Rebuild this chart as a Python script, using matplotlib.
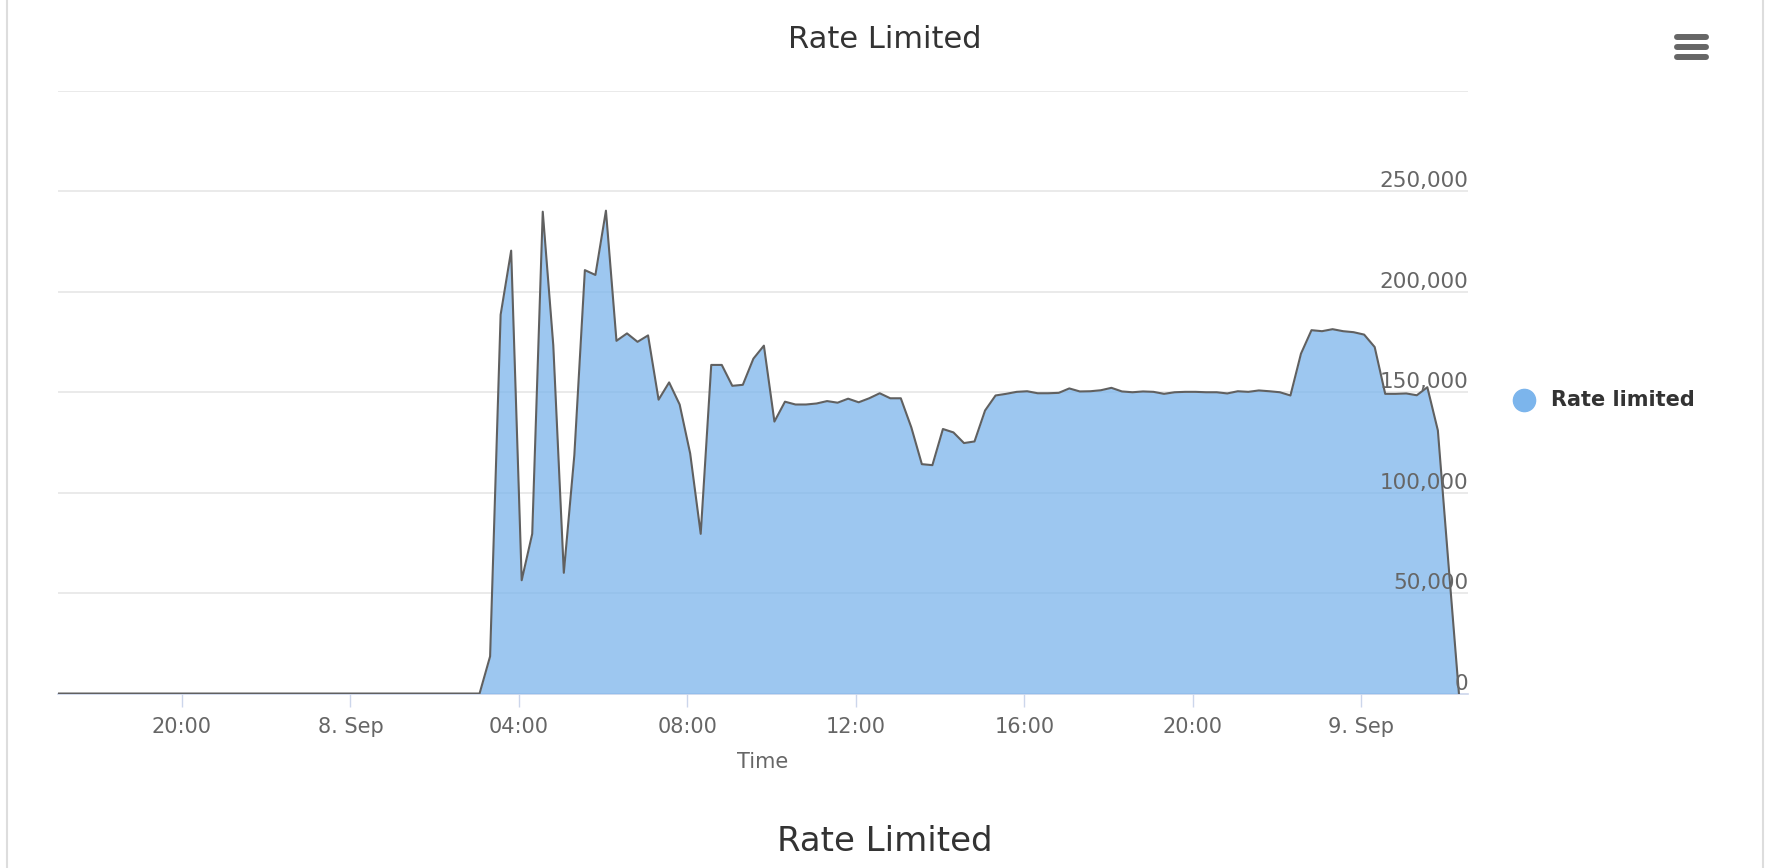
import matplotlib
matplotlib.use("Agg")
import matplotlib.pyplot as plt
import matplotlib.dates as mdates
import matplotlib.transforms as mtransforms
from matplotlib.lines import Line2D
import pandas as pd

# 15-minute samples, 7 Sep 17:04 -> 9 Sep 02:19
start_time = "2019-09-07 17:04"
step = "15min"

# zero until 03:04 on 8 Sep (41 samples)
quiet_values = [0] * 41

# 03:19 on 8 Sep onwards, in thousands
rate_limited_k = [
    18.5, 188.6, 220.5,
    56.4, 79.5, 239.9, 173.4,
    60.1, 118.7, 210.8, 208.4,
    240.4, 175.6, 179.3, 175.1,
    178.3, 146.3, 154.9, 143.9,
    119.5, 79.5, 163.6, 163.6,
    153.2, 153.7, 166.7, 173.2,
    135.4, 145.3, 143.9, 143.9,
    144.4, 145.6, 144.8, 146.8,
    145.0, 147.0, 149.5, 147.0,
    147.0, 132.5, 114.2, 113.7,
    131.7, 130.0, 124.7, 125.5,
    140.9, 148.4, 149.2, 150.2,
    150.5, 149.5, 149.5, 149.7,
    151.9, 150.4, 150.5, 151.0,
    152.2, 150.4, 150.0, 150.4,
    150.2, 149.2, 150.0, 150.2,
    150.2, 150.0, 150.0, 149.4,
    150.5, 150.2, 150.9, 150.5,
    150.0, 148.4, 169.2, 180.9,
    180.4, 181.4, 180.4, 179.9,
    178.7, 172.5, 149.2, 149.2,
    149.4, 148.5, 152.5, 131.0,
    65.0, 0.0,
]

x_tick_times = ["2019-09-07 20:00", "2019-09-08 00:00", "2019-09-08 04:00",
                "2019-09-08 08:00", "2019-09-08 12:00", "2019-09-08 16:00",
                "2019-09-08 20:00", "2019-09-09 00:00"]
x_tick_labels = ["20:00", "8. Sep", "04:00", "08:00", "12:00", "16:00",
                 "20:00", "9. Sep"]
y_ticks = [0, 50000, 100000, 150000, 200000, 250000]
y_tick_labels = ["0", "50,000", "100,000", "150,000", "200,000", "250,000"]

values = quiet_values + [v * 1000 for v in rate_limited_k]
times = pd.date_range(start_time, periods=len(values), freq=step)
df = pd.DataFrame({"time": times, "rate_limited": values})

plt.rcParams["font.family"] = ["DejaVu Sans"]

fig = plt.figure(figsize=(17.84, 8.68), dpi=100)
ax = fig.add_axes([0.0327, 0.201, 0.7902, 0.6942])

x = mdates.date2num(df["time"])
ax.fill_between(x, df["rate_limited"], 0, color="#7cb5ec", alpha=0.75,
                linewidth=0, zorder=2)
ax.plot(x, df["rate_limited"], color="#606060", linewidth=1.5, zorder=3)

ax.set_xlim(x[0], mdates.date2num(pd.Timestamp("2019-09-09 02:32")))
ax.set_ylim(0, 300000)

# grid lines
for yv in [50000, 100000, 150000, 200000, 250000, 300000]:
    ax.axhline(yv, color="#e6e6e6", linewidth=1.2, zorder=1)

for side in ["top", "right", "left"]:
    ax.spines[side].set_visible(False)
ax.spines["bottom"].set_color("#ccd6eb")
ax.spines["bottom"].set_linewidth(1.2)
ax.spines["bottom"].set_zorder(1)

ax.set_xticks(mdates.date2num(pd.to_datetime(x_tick_times)))
ax.set_xticklabels(x_tick_labels)
ax.tick_params(axis="x", length=9, width=1, color="#ccd6eb", pad=8,
               labelsize=15, labelcolor="#666666")
ax.set_yticks([])

# y labels sit inside the plot on the right, just above their grid line
trans = mtransforms.blended_transform_factory(ax.transAxes, ax.transData)
offset = mtransforms.ScaledTranslation(0, 0, fig.dpi_scale_trans)
for yv, lab in zip(y_ticks, y_tick_labels):
    ax.text(1.0, yv, lab, transform=trans + offset, ha="right", va="bottom",
            fontsize=15.5, color="#666666", zorder=5)

fig.text(0.496, 0.955, "Rate Limited", ha="center", va="center",
         fontsize=22, color="#333333")
fig.text(0.4275, 0.1218, "Time", ha="center", va="center",
         fontsize=15, color="#666666")
fig.text(0.496, 0.031, "Rate Limited", ha="center", va="center",
         fontsize=24.5, color="#333333")

# legend
fig.add_artist(Line2D([0.854], [0.5386], marker="o", markersize=16,
                      color="#7cb5ec", linestyle="none"))
fig.text(0.8694, 0.5386, "Rate limited", ha="left", va="center",
         fontsize=15, fontweight="bold", color="#333333")

# context menu icon
for yy in [0.9577, 0.9462, 0.9347]:
    fig.add_artist(Line2D([0.9403, 0.9560], [yy, yy], color="#666666",
                          linewidth=4.3, solid_capstyle="round"))

# container borders
for xx in [0.0039, 0.9880]:
    fig.add_artist(Line2D([xx, xx], [0, 1], color="#dddddd", linewidth=1.5))

fig.savefig("out.png", dpi=100)
